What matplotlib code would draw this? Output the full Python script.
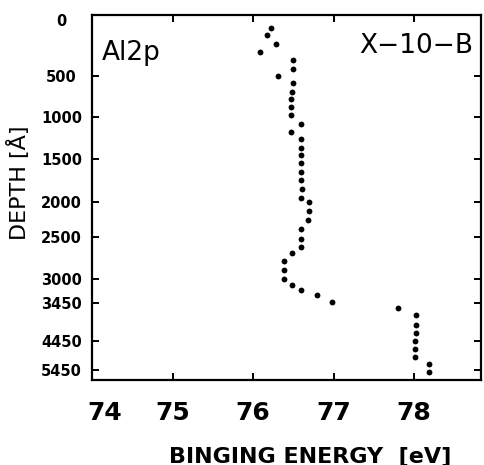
import numpy as np
import matplotlib
matplotlib.use("Agg")
import matplotlib.pyplot as plt
from matplotlib.transforms import ScaledTranslation

# ---- data ----
energy = [76.22, 76.17, 76.29, 76.08, 76.49, 76.49, 76.31, 76.49, 76.48, 76.47,
          76.47, 76.47, 76.59, 76.47, 76.60, 76.60, 76.59, 76.59, 76.60, 76.60,
          76.61, 76.59, 76.69, 76.69, 76.68, 76.59, 76.59, 76.60, 76.48, 76.39,
          76.39, 76.39, 76.48, 76.60, 76.79, 76.98, 77.80, 78.02, 78.02, 78.02,
          78.01, 78.01, 78.01, 78.19, 78.19]
depth = [110, 160, 240, 300, 370, 440, 500, 590, 700, 780,
         880, 980, 1080, 1175, 1260, 1365, 1455, 1550, 1650, 1750,
         1850, 1955, 2000, 2130, 2250, 2380, 2515, 2620, 2690, 2785,
         2890, 3000, 3110, 3200, 3305, 3435, 3575, 3770, 4015, 4235,
         4455, 4710, 4985, 5225, 5525]

x_ticks = [74, 75, 76, 77, 78]
x_ticklabels = ["74", "75", "76", "77", "78"]
depth_ticks = [0, 500, 1000, 1500, 2000, 2500, 3000, 3450, 4450, 5450]
depth_ticklabels = ["0", "500", "1000", "1500", "2000", "2500", "3000", "3450", "4450", "5450"]

# non-linear (hand drawn) depth scale of the original axis
scale_depths = [0, 500, 1000, 1500, 2000, 2500, 3000, 3450, 4450, 5450, 6450]
scale_pos = [0, 61, 102, 144, 187, 222.5, 264, 288.5, 326.5, 355.5, 385.5]


def fwd(d):
    return np.interp(d, scale_depths, scale_pos)


def inv(p):
    return np.interp(p, scale_pos, scale_depths)


W, H = 485, 465
fig = plt.figure(figsize=(W / 100, H / 100), dpi=100)
ax = fig.add_axes([92 / W, 1 - 380 / H, (481 - 92) / W, 365 / H])

ax.set_yscale("function", functions=(fwd, inv))
ax.plot(energy, depth, "o", color="black", ms=4.2, mew=0, linestyle="none")

ax.set_xlim(74.0, 78.83)
ax.set_ylim(5778, 0)

ax.set_xticks(x_ticks)
ax.set_xticklabels(x_ticklabels, fontsize=18, fontweight="bold", family="DejaVu Sans")
ax.set_yticks(depth_ticks)
ax.set_yticklabels(depth_ticklabels, fontsize=10.5, fontweight="bold", family="DejaVu Sans")
ax.yaxis.set_minor_locator(matplotlib.ticker.NullLocator())

for s in ax.spines.values():
    s.set_linewidth(1.6)

ax.tick_params(axis="x", direction="in", length=5, width=1.4, top=True, pad=15)
ax.tick_params(axis="y", direction="in", length=5, width=1.4, right=True, pad=22)
for lbl in ax.get_yticklabels():
    lbl.set_ha("center")

# small offsets of the first labels as in the original
xl0 = ax.get_xticklabels()[0]
xl0.set_transform(xl0.get_transform() + ScaledTranslation(13 / 100, 0, fig.dpi_scale_trans))
yl0 = ax.get_yticklabels()[0]
yl0.set_transform(yl0.get_transform() + ScaledTranslation(0, -5 / 100, fig.dpi_scale_trans))

fig.text(102 / W, 1 - 60 / H, "Al2p", fontsize=19, ha="left", va="baseline")
fig.text(473 / W, 1 - 53 / H, "X\u221210\u2212B", fontsize=19, ha="right", va="baseline")

fig.text(310 / W, 1 - 456 / H, "BINGING ENERGY  [eV]", fontsize=16, fontweight="bold",
         ha="center", va="center")
fig.text(19 / W, 1 - 183 / H, "DEPTH [\u00c5]", fontsize=16, rotation=90,
         ha="center", va="center")

fig.savefig("out.png", dpi=100)
